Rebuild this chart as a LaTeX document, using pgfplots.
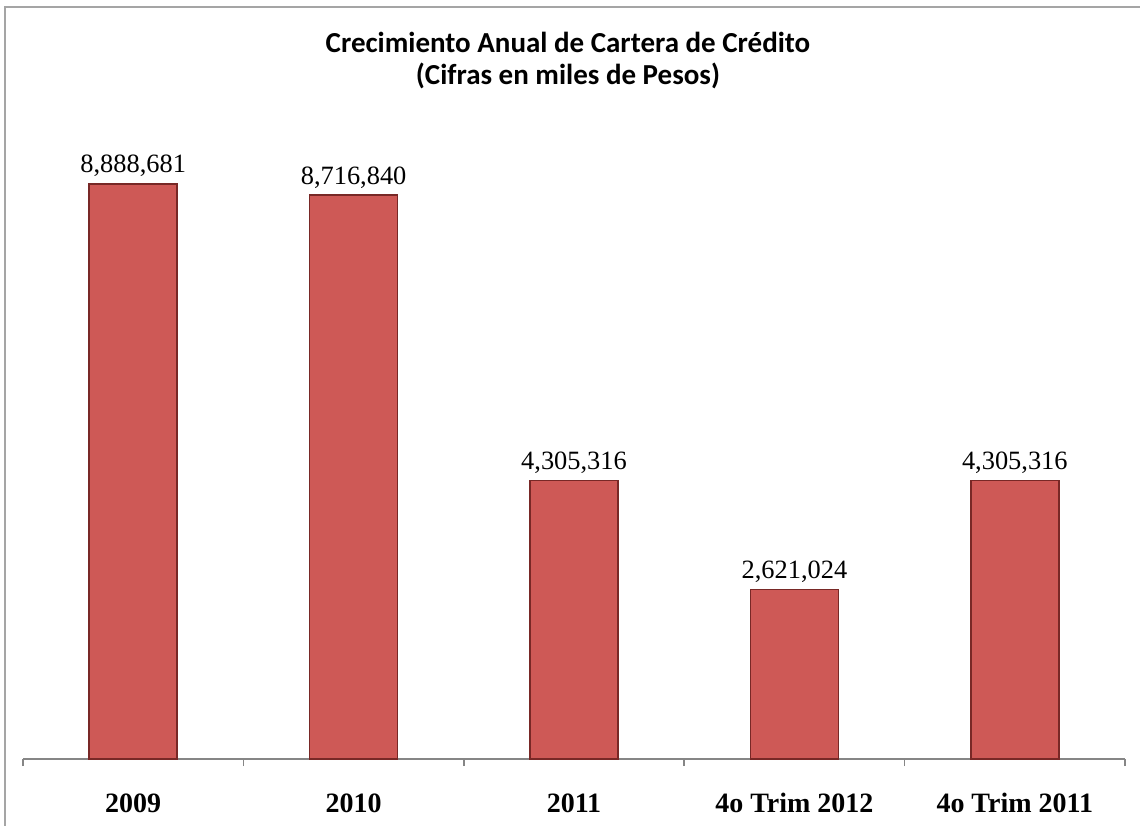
\documentclass[border=0pt]{standalone}
\usepackage{pgfplots}
\pgfplotsset{compat=1.18}
\usepackage{fontspec}
\setmainfont{Liberation Serif}
\newfontfamily\titlefont{Carlito}
\definecolor{barred}{RGB}{206,89,86}
\definecolor{bardark}{RGB}{120,40,38}
\definecolor{axgray}{RGB}{134,134,134}
\definecolor{framegray}{RGB}{165,165,165}
\begin{document}
\begin{tikzpicture}[x=1pt,y=1pt]
\useasboundingbox (0,0) rectangle (570,412.5);
\draw[framegray, line width=0.8pt] (2.5,-5) -- (2.5,409) -- (580,409);
\node[align=center, font=\titlefont\bfseries\fontsize{14.5}{16}\selectfont] at (284,382)
  {Crecimiento Anual de Cartera de Crédito\\(Cifras en miles de Pesos)};
\begin{axis}[
  at={(11.5pt,33pt)}, anchor=south west,
  scale only axis, width=551pt, height=323.5pt,
  xmin=-0.5, xmax=4.5, ymin=0, ymax=10000000,
  axis x line=bottom, axis y line=none,
  axis line style={axgray, line width=0.75pt, -},
  xtick={0,1,2,3,4},
  xticklabels={2009,2010,2011,4o Trim 2012,4o Trim 2011},
  major tick length=0pt,
  minor xtick={-0.5,0.5,1.5,2.5,3.5,4.5},
  minor tick length=3.5pt,
  tick align=outside,
  minor tick style={axgray, line width=0.75pt},
  xticklabel style={anchor=base, yshift=-26.5pt, font=\bfseries\fontsize{14}{16}\selectfont},
  ybar, bar width=44pt,
  point meta=explicit symbolic,
  nodes near coords,
  every node near coord/.append style={anchor=base, yshift=5.5pt, font=\fontsize{13.2}{15}\selectfont, text=black},
  clip=false,
]
\addplot[fill=barred, draw=bardark, line width=0.8pt] coordinates {
  (0,8888681) [8,888,681]
  (1,8716840) [8,716,840]
  (2,4305316) [4,305,316]
  (3,2621024) [2,621,024]
  (4,4305316) [4,305,316]
};
\end{axis}
\end{tikzpicture}
\end{document}
